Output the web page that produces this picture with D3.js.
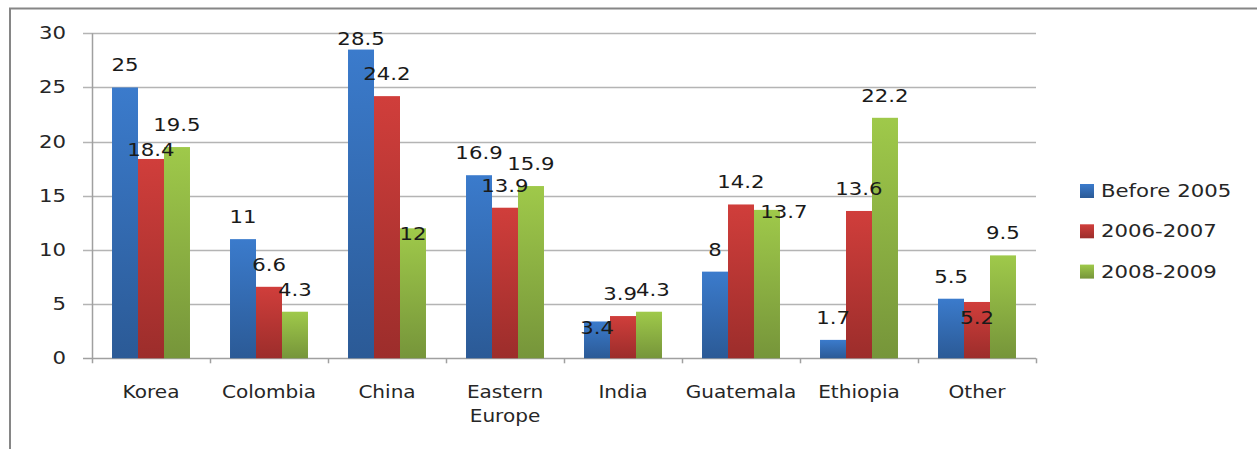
<!DOCTYPE html>
<html>
<head>
<meta charset="utf-8">
<script src="https://d3js.org/d3.v7.min.js"></script>
<style>
    body { margin: 0; background: #fff; }
    text { font-family: "DejaVu Sans", sans-serif; fill: #262626; }
</style>
</head>
<body>
<div id="chart"></div>
<script>
var categories = ["Korea", "Colombia", "China", "Eastern Europe", "India", "Guatemala", "Ethiopia", "Other"];
var seriesNames = ["Before 2005", "2006-2007", "2008-2009"];
var before2005 = [25, 11, 28.5, 16.9, 3.4, 8, 1.7, 5.5];
var y2006_2007 = [18.4, 6.6, 24.2, 13.9, 3.9, 14.2, 13.6, 5.2];
var y2008_2009 = [19.5, 4.3, 12, 15.9, 4.3, 13.7, 22.2, 9.5];
var yTicks = [0, 5, 10, 15, 20, 25, 30];

// excel pushed a few labels around to dodge each other
var labelNudge = {
    "Before 2005|China": [0, 12],
    "Before 2005|India": [0, 29],
    "2006-2007|Korea": [0, 13],
    "2006-2007|India": [-3, 0],
    "2006-2007|Other": [0, 38],
    "2008-2009|China": [0, 28],
    "2008-2009|India": [4, 0],
    "2008-2009|Guatemala": [17, 24]
};

var seriesValues = [before2005, y2006_2007, y2008_2009];
var seriesColors = [
    { top: "#3b7bcc", bottom: "#2b5a96" },
    { top: "#d03e3b", bottom: "#9c2d2b" },
    { top: "#9fc94a", bottom: "#76953a" }
];

var width = 1257, height = 449;
var plot = { left: 92, right: 1036, top: 33.3, bottom: 358.3 };
var sx = 1.18;

var svg = d3.select("#chart").append("svg")
    .attr("width", width)
    .attr("height", height);

var defs = svg.append("defs");
seriesColors.forEach(function (c, i) {
    var g = defs.append("linearGradient")
        .attr("id", "grad" + i)
        .attr("x1", 0).attr("y1", 0).attr("x2", 0).attr("y2", 1);
    g.append("stop").attr("offset", "0%").attr("stop-color", c.top);
    g.append("stop").attr("offset", "100%").attr("stop-color", c.bottom);
});

// outer frame
svg.append("rect")
    .attr("x", 10).attr("y", 8.5)
    .attr("width", 1400).attr("height", 600)
    .attr("fill", "none")
    .attr("stroke", "#868686")
    .attr("stroke-width", 2);

var x = d3.scaleBand()
    .domain(categories)
    .range([plot.left, plot.right]);

var xs = d3.scaleBand()
    .domain(seriesNames)
    .range([0, x.bandwidth()])
    .paddingOuter(0.77);

var y = d3.scaleLinear()
    .domain([0, 30])
    .range([plot.bottom, plot.top]);

// grid lines + y ticks
svg.append("g").selectAll("line")
    .data(yTicks)
    .enter().append("line")
    .attr("x1", plot.left - 9)
    .attr("x2", plot.right)
    .attr("y1", function (d) { return Math.round(y(d)) + 0.5; })
    .attr("y2", function (d) { return Math.round(y(d)) + 0.5; })
    .attr("stroke", function (d) { return d === 0 ? "#a0a0a0" : "#b4b4b4"; })
    .attr("stroke-width", 1.5);

svg.append("g").selectAll("text")
    .data(yTicks)
    .enter().append("text")
    .attr("transform", function (d) { return "translate(66," + y(d) + ") scale(" + sx + ",1)"; })
    .attr("text-anchor", "end")
    .attr("dominant-baseline", "central")
    .style("font-size", "18px")
    .text(function (d) { return d; });

// y axis line
svg.append("line")
    .attr("x1", plot.left + 0.5).attr("x2", plot.left + 0.5)
    .attr("y1", plot.top).attr("y2", plot.bottom + 5)
    .attr("stroke", "#a0a0a0").attr("stroke-width", 1.5);

// category ticks
svg.append("g").selectAll("line")
    .data(categories.slice(1).concat([null]))
    .enter().append("line")
    .attr("x1", function (d) { return d ? x(d) + 0.5 : plot.right + 0.5; })
    .attr("x2", function (d) { return d ? x(d) + 0.5 : plot.right + 0.5; })
    .attr("y1", plot.bottom)
    .attr("y2", plot.bottom + 5)
    .attr("stroke", "#a0a0a0").attr("stroke-width", 1.5);

var points = [];
seriesNames.forEach(function (s, si) {
    categories.forEach(function (c, ci) {
        points.push({ series: s, si: si, cat: c, value: seriesValues[si][ci] });
    });
});

// bars
svg.append("g").selectAll("rect")
    .data(points)
    .enter().append("rect")
    .attr("x", function (d) { return x(d.cat) + xs(d.series); })
    .attr("y", function (d) { return y(d.value); })
    .attr("width", xs.bandwidth())
    .attr("height", function (d) { return y(0) - y(d.value); })
    .attr("fill", function (d) { return "url(#grad" + d.si + ")"; });

// value labels, drawn on top of every bar
svg.append("g").selectAll("text")
    .data(points)
    .enter().append("text")
    .attr("transform", function (d) {
        var n = labelNudge[d.series + "|" + d.cat] || [0, 0];
        var lx = x(d.cat) + xs(d.series) + xs.bandwidth() / 2 + n[0];
        var ly = y(d.value) - 22 + n[1];
        return "translate(" + lx + "," + ly + ") scale(" + sx + ",1)";
    })
    .attr("text-anchor", "middle")
    .attr("dominant-baseline", "central")
    .style("font-size", "18px")
    .style("fill", "#1a1a1a")
    .text(function (d) { return d.value; });

// category labels
var catLabels = svg.append("g").selectAll("text")
    .data(categories)
    .enter().append("text")
    .attr("transform", function (d) {
        return "translate(" + (x(d) + x.bandwidth() / 2) + ",392) scale(" + sx + ",1)";
    })
    .attr("text-anchor", "middle")
    .attr("dominant-baseline", "central")
    .style("font-size", "17px");

catLabels.each(function (d) {
    var words = d === "Eastern Europe" ? ["Eastern", "Europe"] : [d];
    var t = d3.select(this);
    words.forEach(function (w, i) {
        t.append("tspan")
            .attr("x", 0)
            .attr("dy", i === 0 ? 0 : 24)
            .text(w);
    });
});

// legend
var legend = svg.append("g").selectAll("g")
    .data(seriesNames)
    .enter().append("g")
    .attr("transform", function (d, i) { return "translate(1080," + (191 + i * 40.3) + ")"; });

legend.append("rect")
    .attr("x", 0).attr("y", -7)
    .attr("width", 14).attr("height", 14)
    .attr("fill", function (d, i) { return "url(#grad" + i + ")"; });

legend.append("text")
    .attr("transform", "translate(21,0) scale(" + sx + ",1)")
    .attr("dominant-baseline", "central")
    .style("font-size", "18px")
    .text(function (d) { return d; });
</script>
</body>
</html>
